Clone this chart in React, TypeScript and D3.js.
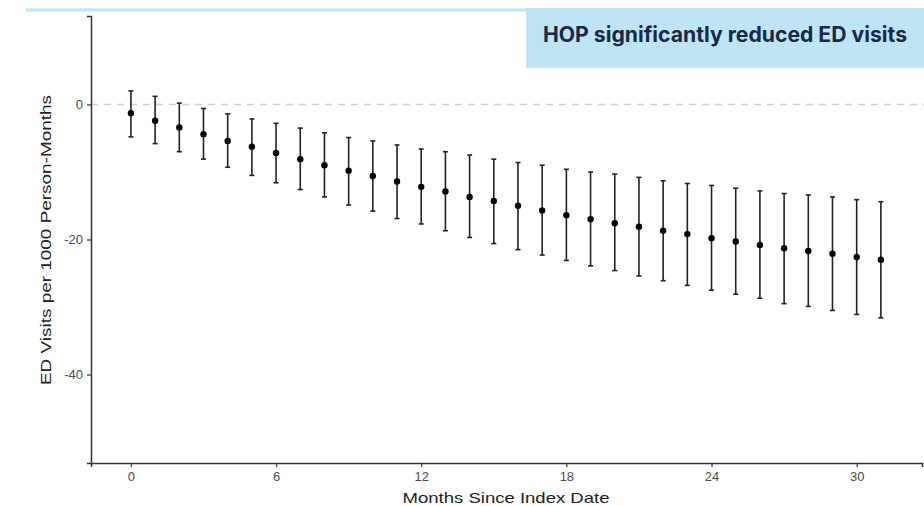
import React, { useRef, useEffect } from "react";
import * as d3 from "d3";

const months = d3.range(0, 32);
const estimates = [
  -1.3, -2.4, -3.4, -4.4, -5.4, -6.25, -7.2, -8.1, -9.0, -9.8, -10.6, -11.4,
  -12.2, -12.9, -13.7, -14.3, -15.0, -15.7, -16.4, -17.0, -17.6, -18.1, -18.7,
  -19.2, -19.8, -20.3, -20.8, -21.3, -21.7, -22.1, -22.6, -23.0,
];
const upper = [
  2.0, 1.2, 0.2, -0.6, -1.4, -2.15, -2.8, -3.5, -4.2, -4.9, -5.4, -6.0, -6.6,
  -7.0, -7.5, -8.1, -8.6, -9.0, -9.6, -10.0, -10.3, -10.8, -11.3, -11.7, -12.0,
  -12.4, -12.8, -13.2, -13.4, -13.7, -14.1, -14.4,
];
const lower = [
  -4.8, -5.8, -7.0, -8.1, -9.3, -10.5, -11.6, -12.6, -13.7, -14.9, -15.8,
  -16.9, -17.7, -18.7, -19.7, -20.6, -21.5, -22.3, -23.1, -23.9, -24.6, -25.4,
  -26.1, -26.8, -27.5, -28.1, -28.7, -29.5, -29.9, -30.5, -31.1, -31.6,
];
const xTicks = [0, 6, 12, 18, 24, 30];
const yTicks = [0, -20, -40];
const title = "HOP significantly reduced ED visits";

const App = () => {
  const svgRef = useRef(null);

  useEffect(() => {
    const w = 924;
    const h = 506;
    const margin = { top: 16, right: 2, bottom: 43, left: 91 };
    const font = "Liberation Sans, Arial, sans-serif";
    const svg = d3.select(svgRef.current).attr("width", w).attr("height", h);
    svg.selectAll("*").remove();

    const data = months.map((m, i) => ({
      m,
      est: estimates[i],
      hi: upper[i],
      lo: lower[i],
    }));

    const x = d3
      .scaleLinear()
      .domain([-1.65, 32.7])
      .range([margin.left, w - margin.right]);
    const y = d3
      .scaleLinear()
      .domain([-53.1, 13.1])
      .range([h - margin.bottom, margin.top]);

    // banner line + title box
    svg
      .append("rect")
      .attr("x", 26)
      .attr("y", 8.5)
      .attr("width", w - 26)
      .attr("height", 3)
      .attr("fill", "#bde5f5");
    svg
      .append("rect")
      .attr("x", 526)
      .attr("y", 8)
      .attr("width", w - 526)
      .attr("height", 60)
      .attr("fill", "#bde5f5");
    svg
      .append("text")
      .attr("x", 725)
      .attr("y", 42)
      .attr("text-anchor", "middle")
      .attr("font-family", "Inter, sans-serif")
      .attr("font-weight", 700)
      .attr("font-size", 21)
      .attr("textLength", 364)
      .attr("lengthAdjust", "spacingAndGlyphs")
      .attr("fill", "#1a2848")
      .text(title);

    // zero reference
    svg
      .append("line")
      .attr("x1", margin.left)
      .attr("x2", w)
      .attr("y1", y(0))
      .attr("y2", y(0))
      .attr("stroke", "#cfcfcf")
      .attr("stroke-width", 1.5)
      .attr("stroke-dasharray", "7,6");

    // error bars
    const bars = svg.append("g").selectAll(".eb").data(data).enter().append("g");
    bars
      .append("line")
      .attr("x1", (d) => x(d.m))
      .attr("x2", (d) => x(d.m))
      .attr("y1", (d) => y(d.hi))
      .attr("y2", (d) => y(d.lo))
      .attr("stroke", "#222")
      .attr("stroke-width", 1.6);
    ["hi", "lo"].forEach((k) => {
      bars
        .append("line")
        .attr("x1", (d) => x(d.m) - 2.5)
        .attr("x2", (d) => x(d.m) + 2.5)
        .attr("y1", (d) => y(d[k]))
        .attr("y2", (d) => y(d[k]))
        .attr("stroke", "#222")
        .attr("stroke-width", 1.6);
    });
    bars
      .append("circle")
      .attr("cx", (d) => x(d.m))
      .attr("cy", (d) => y(d.est))
      .attr("r", 3.2)
      .attr("fill", "#000");

    // axes
    const xAxis = svg
      .append("g")
      .attr("transform", `translate(0,${h - margin.bottom})`)
      .call(
        d3.axisBottom(x).tickValues(xTicks).tickSize(4).tickPadding(5)
          .tickFormat((d) => String(d))
      );
    const yAxis = svg
      .append("g")
      .attr("transform", `translate(${margin.left},0)`)
      .call(
        d3.axisLeft(y).tickValues(yTicks).tickSize(4).tickPadding(4)
          .tickFormat((d) => String(d))
      );

    [xAxis, yAxis].forEach((a) => {
      a.attr("font-size", 13).attr("font-family", font);
      a.select(".domain").attr("stroke", "#333").attr("stroke-width", 1.5);
      a.selectAll(".tick line").attr("stroke", "#333").attr("stroke-width", 1.2);
      a.selectAll(".tick text").attr("fill", "#4d4d4d");
    });

    svg
      .append("text")
      .attr("x", 506)
      .attr("y", 503)
      .attr("text-anchor", "middle")
      .attr("font-family", font)
      .attr("font-size", 15)
      .attr("textLength", 207)
      .attr("lengthAdjust", "spacingAndGlyphs")
      .attr("fill", "#222")
      .text("Months Since Index Date");

    svg
      .append("text")
      .attr("transform", `translate(50.5,240) rotate(-90)`)
      .attr("text-anchor", "middle")
      .attr("font-family", font)
      .attr("font-size", 15)
      .attr("textLength", 290)
      .attr("lengthAdjust", "spacingAndGlyphs")
      .attr("fill", "#222")
      .text("ED Visits per 1000 Person-Months");
  }, []);

  return (
    <svg
      ref={svgRef}
      style={{ position: "absolute", left: 0, top: 0, background: "#fff" }}
    ></svg>
  );
};

export default App;
